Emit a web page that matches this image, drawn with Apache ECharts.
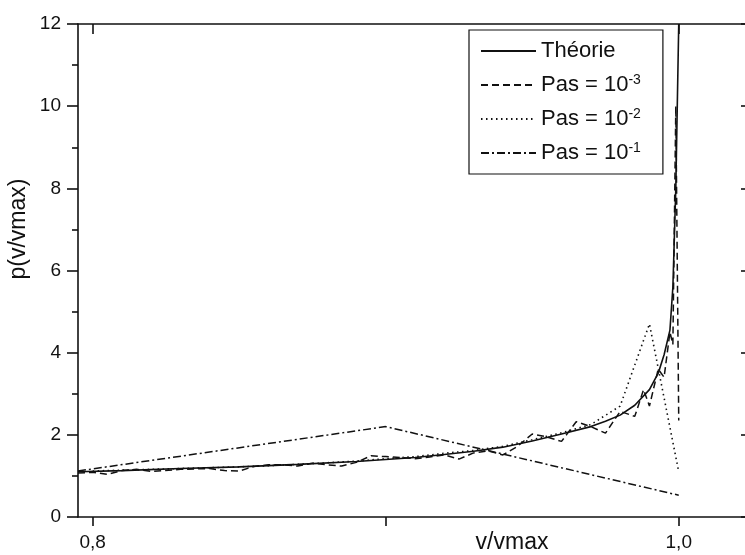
<!DOCTYPE html>
<html>
<head>
<meta charset="utf-8">
<title>p(v/vmax)</title>
<script src="https://cdn.jsdelivr.net/npm/echarts@6/dist/echarts.min.js"></script>
<style>
  html, body { margin: 0; padding: 0; background: #fff; }
  #main { width: 745px; height: 555px; }
</style>
</head>
<body>
<div id="main"></div>
<script>
// données
var seriesNames = ['Théorie', 'Pas = 10^-3', 'Pas = 10^-2', 'Pas = 10^-1'];

var theoryX = [0.795, 0.81, 0.83, 0.85, 0.87, 0.89, 0.90, 0.91, 0.92, 0.93, 0.94, 0.95, 0.96, 0.97, 0.975, 0.98, 0.985, 0.99, 0.993, 0.995, 0.997, 0.998, 0.9985, 0.999, 0.9995, 1.0];
var theoryY = [1.10, 1.13, 1.18, 1.22, 1.28, 1.35, 1.40, 1.45, 1.52, 1.60, 1.70, 1.85, 2.02, 2.20, 2.33, 2.48, 2.72, 3.10, 3.50, 3.95, 4.55, 5.60, 6.80, 8.00, 10.0, 12.0];

var pas3X = [0.795, 0.800, 0.805, 0.810, 0.815, 0.820, 0.830, 0.840, 0.845, 0.850, 0.855, 0.860, 0.865, 0.870, 0.875, 0.880, 0.885, 0.890, 0.895, 0.900, 0.905, 0.910, 0.915, 0.920, 0.925, 0.930, 0.935, 0.940, 0.945, 0.950, 0.955, 0.960, 0.965, 0.970, 0.975, 0.980, 0.985, 0.988, 0.990, 0.993, 0.995, 0.997, 0.998, 0.999, 1.000];
var pas3Y = [1.07, 1.09, 1.04, 1.13, 1.16, 1.11, 1.16, 1.18, 1.13, 1.12, 1.23, 1.27, 1.27, 1.24, 1.31, 1.27, 1.24, 1.33, 1.49, 1.47, 1.45, 1.42, 1.46, 1.51, 1.41, 1.56, 1.61, 1.51, 1.72, 2.02, 1.95, 1.84, 2.32, 2.20, 2.04, 2.57, 2.45, 3.10, 2.70, 3.60, 3.40, 4.50, 4.20, 10.0, 2.35];

var pas2X = [0.80, 0.81, 0.82, 0.83, 0.84, 0.85, 0.86, 0.87, 0.88, 0.89, 0.90, 0.91, 0.92, 0.93, 0.94, 0.95, 0.96, 0.97, 0.98, 0.99, 1.00];
var pas2Y = [1.12, 1.14, 1.16, 1.18, 1.20, 1.22, 1.25, 1.28, 1.32, 1.36, 1.42, 1.47, 1.55, 1.62, 1.72, 1.88, 2.05, 2.25, 2.70, 4.70, 1.10];

var pas1X = [0.795, 0.9, 1.0];
var pas1Y = [1.12, 2.20, 0.53];

var xTickLabels = [0.8, 1.0];
var xTicks = [0.8, 0.9, 1.0];

function zip(xs, ys) {
    var out = [];
    for (var i = 0; i < xs.length; i++) {
        out.push([xs[i], ys[i]]);
    }
    return out;
}

var FONT = '"Liberation Sans", Arial, sans-serif';
var INK = '#111';

var myChart = echarts.init(document.getElementById('main'), null, { renderer: 'canvas' });

function lineSerie(name, data, type, width) {
    return {
        name: name,
        type: 'line',
        data: data,
        symbol: 'none',
        showSymbol: false,
        animation: false,
        lineStyle: { color: INK, width: width, type: type },
        itemStyle: { color: INK },
        emphasis: { disabled: true }
    };
}

var option = {
    animation: false,
    backgroundColor: '#fff',
    grid: {
        left: 78,
        top: 24,
        width: 674,
        height: 493,
        containLabel: false,
        outerBoundsMode: 'none'
    },
    legend: {
        data: seriesNames,
        orient: 'vertical',
        left: 469,
        top: 30,
        padding: [9, 22, 9, 11],
        itemWidth: 55,
        itemHeight: 14,
        itemGap: 10,
        itemTextGap: 4,
        borderColor: INK,
        borderWidth: 1.2,
        borderRadius: 0,
        selectedMode: false,
        itemStyle: { opacity: 0 },
        formatter: function (name) {
            if (name.indexOf('^') < 0) {
                return '{n|' + name + '}';
            }
            var parts = name.split('^');
            return '{n|' + parts[0] + '}{s|' + parts[1] + '}';
        },
        textStyle: {
            color: INK,
            fontFamily: FONT,
            fontSize: 22,
            lineHeight: 24,
            rich: {
                n: { fontFamily: FONT, fontSize: 22, lineHeight: 24, color: INK },
                s: { fontFamily: FONT, fontSize: 14, lineHeight: 13, color: INK, verticalAlign: 'top' }
            }
        }
    },
    xAxis: [{
        type: 'value',
        position: 'bottom',
        min: 0.795,
        max: 1.025,
        splitLine: { show: false },
        axisLine: { show: true, onZero: false, lineStyle: { color: INK, width: 1.6 } },
        axisTick: { show: true, inside: false, length: 9, customValues: xTicks, lineStyle: { color: INK, width: 1.6 } },
        axisLabel: {
            show: true,
            customValues: xTickLabels,
            margin: 16,
            color: INK,
            fontFamily: FONT,
            fontSize: 19,
            formatter: function (v) { return v.toFixed(1).replace('.', ','); }
        }
    }, {
        type: 'value',
        position: 'top',
        min: 0.795,
        max: 1.025,
        splitLine: { show: false },
        axisLine: { show: true, onZero: false, lineStyle: { color: INK, width: 1.6 } },
        axisTick: { show: true, inside: true, length: 10, customValues: xTickLabels, lineStyle: { color: INK, width: 1.6 } },
        axisLabel: { show: false }
    }],
    yAxis: [{
        type: 'value',
        position: 'left',
        min: 0,
        max: 12,
        interval: 2,
        splitLine: { show: false },
        axisLine: { show: true, onZero: false, lineStyle: { color: INK, width: 1.6 } },
        axisTick: { show: true, inside: false, length: 11, lineStyle: { color: INK, width: 1.6 } },
        minorTick: { show: true, splitNumber: 2, length: 6, lineStyle: { color: INK, width: 1.6 } },
        axisLabel: { margin: 17, color: INK, fontFamily: FONT, fontSize: 19 }
    }, {
        type: 'value',
        position: 'right',
        min: 0,
        max: 12,
        interval: 2,
        splitLine: { show: false },
        axisLine: { show: true, onZero: false, lineStyle: { color: INK, width: 1.6 } },
        axisTick: { show: true, inside: true, length: 11, lineStyle: { color: INK, width: 1.6 } },
        minorTick: { show: true, splitNumber: 2, length: 6, lineStyle: { color: INK, width: 1.6 } },
        axisLabel: { show: false }
    }],
    graphic: [{
        type: 'text',
        x: 512,
        y: 543,
        style: { text: 'v/vmax', font: '23px ' + FONT, fill: INK, align: 'center', verticalAlign: 'middle' }
    }, {
        type: 'text',
        x: 19,
        y: 229,
        rotation: Math.PI / 2,
        style: { text: 'p(v/vmax)', font: '23px ' + FONT, fill: INK, align: 'center', verticalAlign: 'middle' }
    }],
    series: [
        lineSerie(seriesNames[0], zip(theoryX, theoryY), 'solid', 1.6),
        lineSerie(seriesNames[1], zip(pas3X, pas3Y), [7, 4], 1.5),
        lineSerie(seriesNames[2], zip(pas2X, pas2Y), [1.5, 3.5], 1.6),
        lineSerie(seriesNames[3], zip(pas1X, pas1Y), [8, 3, 2, 3], 1.5)
    ]
};
// afficher le graphique
myChart.setOption(option);
</script>
</body>
</html>
